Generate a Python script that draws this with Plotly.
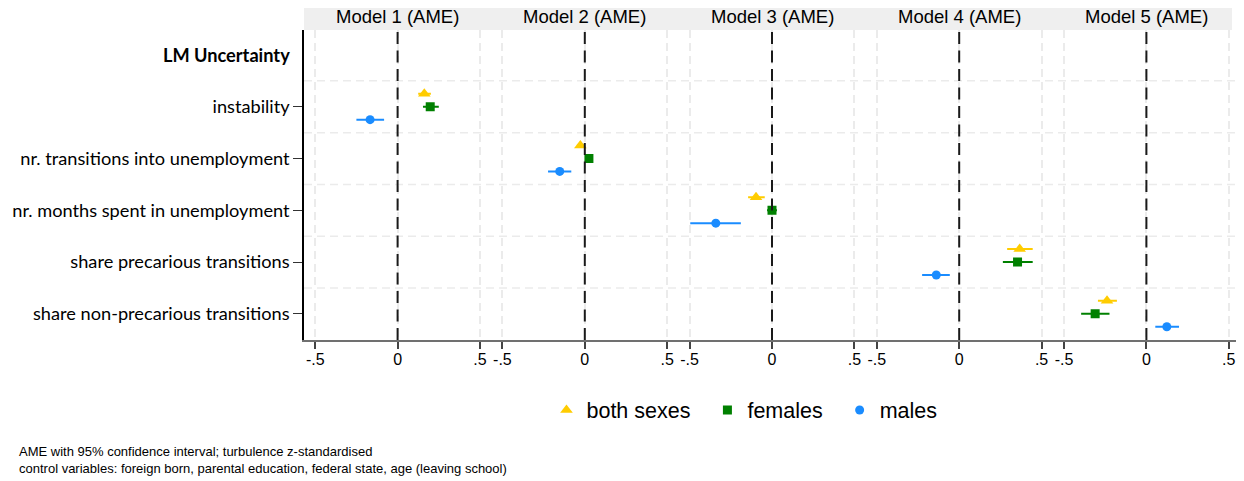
import plotly.graph_objects as go
from plotly.subplots import make_subplots

# ---- data -------------------------------------------------------------
models = ["Model 1 (AME)", "Model 2 (AME)", "Model 3 (AME)", "Model 4 (AME)", "Model 5 (AME)"]
header_label = "LM Uncertainty"
variables = ["instability", "nr. transitions into unemployment", "nr. months spent in unemployment",
             "share precarious transitions", "share non-precarious transitions"]
groups = ["both sexes", "females", "males"]

est_both = [0.162, -0.027, -0.097, 0.367, -0.239]
lo_both = [0.125, -0.048, -0.145, 0.291, -0.294]
hi_both = [0.202, -0.006, -0.044, 0.446, -0.179]

est_fem = [0.198, 0.025, 0.000, 0.354, -0.311]
lo_fem = [0.154, 0.005, -0.030, 0.265, -0.396]
hi_fem = [0.250, 0.046, 0.030, 0.446, -0.224]

est_male = [-0.167, -0.152, -0.341, -0.139, 0.124]
lo_male = [-0.250, -0.223, -0.496, -0.225, 0.054]
hi_male = [-0.082, -0.082, -0.189, -0.057, 0.198]

x_ticks = [-0.5, 0, 0.5]
x_ticktext = ["-.5", "0", ".5"]

notes = ["AME with 95% confidence interval; turbulence z-standardised",
         "control variables: foreign born, parental education, federal state, age (leaving school)"]

# ---- styles -----------------------------------------------------------
series = [
    (groups[0], est_both, lo_both, hi_both, "triangle-up", 11, "#FFCC00", -0.25),
    (groups[1], est_fem, lo_fem, hi_fem, "square", 9, "#008000", 0.0),
    (groups[2], est_male, lo_male, hi_male, "circle", 9, "#1A8CFF", 0.25),
]

PAGE_OFF = 8  # default page margin of the html body
W, H = 1244 - PAGE_OFF, 481 - PAGE_OFF
L, R, T = 302 - PAGE_OFF, 4, 30 - PAGE_OFF
plot_h = 310
B = H - T - plot_h
plot_w = W - L - R


def xp(px):
    """window pixel x -> paper x"""
    return (px - PAGE_OFF - L) / plot_w


def yp(py):
    """window pixel y -> paper y"""
    return (T + plot_h - (py - PAGE_OFF)) / plot_h


fig = make_subplots(rows=1, cols=5, shared_yaxes=True, horizontal_spacing=0)

NBSP = "\u00a0"
for i in range(len(models)):
    for (name, est, lo, hi, sym, size, col, off) in series:
        fig.add_trace(go.Scatter(
            x=[est[i]], y=[i + 1 + off], mode="markers", name=name + NBSP * 2,
            legendgroup=name, showlegend=(i == 0),
            marker=dict(symbol=sym, size=size, color=col, line=dict(width=0)),
            error_x=dict(type="data", symmetric=False,
                         array=[hi[i] - est[i]], arrayminus=[est[i] - lo[i]],
                         color=col, thickness=2, width=0),
            hoverinfo="skip",
        ), row=1, col=i + 1)

xr = 0.568
for i in range(len(models)):
    fig.update_xaxes(
        row=1, col=i + 1, range=[-xr, xr], tickvals=x_ticks, ticktext=x_ticktext,
        showgrid=True, gridcolor="#EBEBEB", gridwidth=1.5, griddash="8px,5px",
        zeroline=False, showline=True, linecolor="#707070", linewidth=1.5,
        ticks="outside", ticklen=7, tickwidth=1.5, tickcolor="#444",
        ticklabelstandoff=-3,
        tickfont=dict(family="Liberation Sans, Arial", size=16, color="black"),
    )
    # zero reference line
    fig.add_shape(type="line", xref=f"x{i + 1 if i else ''}", yref="paper",
                  x0=0, x1=0, y0=0, y1=1,
                  line=dict(color="#1A1A1A", width=2, dash="12px,6.5px"), layer="above")
    # panel title
    fig.add_annotation(xref="paper", yref="paper", x=(i + 0.5) / 5, y=(plot_h + 13.5) / plot_h,
                       text=models[i], showarrow=False, xanchor="center", yanchor="middle",
                       font=dict(family="Liberation Sans, Arial", size=18.5, color="black"))

ymin, ymax = -0.483, 5.507
fig.update_yaxes(
    range=[ymax, ymin], tickvals=[1, 2, 3, 4, 5], ticktext=variables,
    showgrid=False, zeroline=False,
)
fig.update_yaxes(row=1, col=1, showline=True, linecolor="black", linewidth=1.5,
                 ticks="outside", ticklen=9, tickwidth=1.2, tickcolor="#333",
                 tickfont=dict(family="Lato", size=18.2, color="black"))

# horizontal dashed grid lines between categories
for k in range(5):
    fig.add_shape(type="line", xref="paper", yref="y", x0=0, x1=1, y0=k + 0.5, y1=k + 0.5,
                  line=dict(color="#EBEBEB", width=1.5, dash="8px,5px"), layer="below")

# header band
fig.add_shape(type="rect", xref="paper", yref="paper", x0=0, x1=xp(1232),
              y0=1, y1=(plot_h + 27) / plot_h, fillcolor="#EFEFEF", line=dict(width=0), layer="below")

# section header label
fig.add_annotation(xref="paper", yref="y", x=xp(290), y=0, text="<b>" + header_label + "</b>",
                   showarrow=False, xanchor="right", yanchor="middle",
                   font=dict(family="Lato", size=18.2, color="black"))

# notes
for j, t in enumerate(notes):
    fig.add_annotation(xref="paper", yref="paper", x=xp(14), y=yp(451 + 18 * j),
                       text=t, showarrow=False, xanchor="left", yanchor="middle",
                       font=dict(family="Liberation Sans, Arial", size=13, color="black"))

fig.update_layout(
    width=W, height=H, margin=dict(l=L, r=R, t=T, b=B),
    plot_bgcolor="white", paper_bgcolor="white",
    legend=dict(orientation="h", x=xp(545), xanchor="left",
                y=yp(410), yanchor="middle",
                font=dict(family="Liberation Sans, Arial", size=21.5, color="black"),
                bgcolor="rgba(0,0,0,0)"),
)

fig.write_html("out.html")
